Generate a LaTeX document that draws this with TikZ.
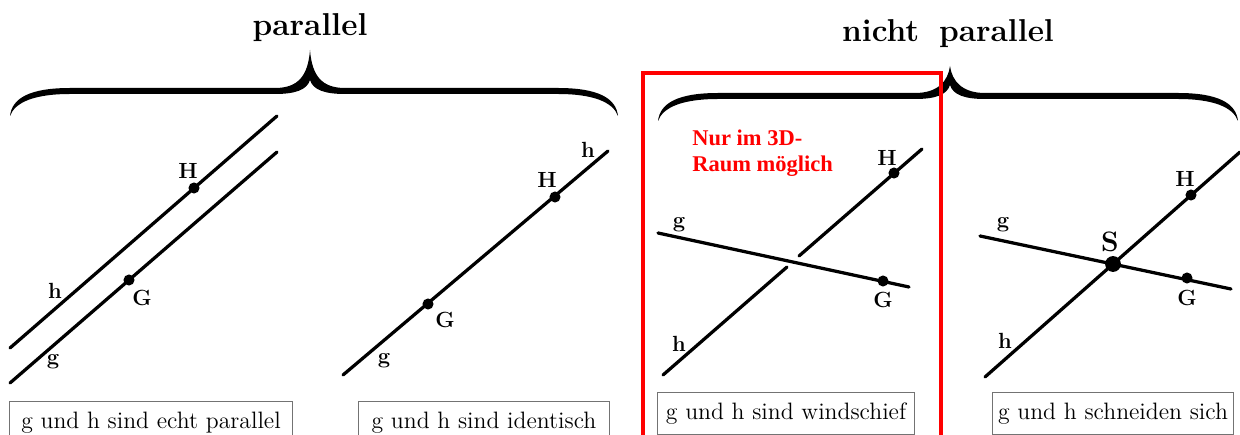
\documentclass[tikz,border=0pt]{standalone}
\usepackage{fontspec}
\newfontfamily\redfont{Liberation Serif}
\newcommand\drawgbrace[5]{%
\fill ({#1},{#4+28}) .. controls ({#1+2},{#4+10}) and ({#1+20},{#4}) .. ({#1+60},{#4})
 -- ({#2-35},{#4}) .. controls ({#2-12},{#4}) and ({#2-2},{#4-12}) .. ({#2},{#5})
 .. controls ({#2+2},{#4-12}) and ({#2+12},{#4}) .. ({#2+35},{#4})
 -- ({#3-60},{#4}) .. controls ({#3-20},{#4}) and ({#3-2},{#4+10}) .. ({#3},{#4+28})
 .. controls ({#3-5},{#4+14}) and ({#3-25},{#4+6}) .. ({#3-60},{#4+6})
 -- ({#2+35},{#4+6}) .. controls ({#2+15},{#4+6}) and ({#2+3},{#4+2}) .. ({#2},{#4-8})
 .. controls ({#2-3},{#4+2}) and ({#2-15},{#4+6}) .. ({#2-35},{#4+6})
 -- ({#1+60},{#4+6}) .. controls ({#1+25},{#4+6}) and ({#1+5},{#4+14}) .. cycle;}
\begin{document}
\begin{tikzpicture}[x=0.02cm,y=-0.02cm,
  ln/.style={line width=1.85pt, line cap=round},
  dot/.style={circle, fill=black, inner sep=0pt, minimum size=6.3pt},
  bigdot/.style={circle, fill=black, inner sep=0pt, minimum size=9pt},
  lbl/.style={font=\fontsize{12.5}{14}\selectfont\bfseries, inner sep=0pt},
  slbl/.style={font=\fontsize{16}{18}\selectfont\bfseries, inner sep=0pt},
  ttl/.style={font=\fontsize{18}{21}\selectfont\bfseries, inner sep=0pt},
  capbox/.style={draw=black!55, line width=0.6pt, anchor=north, minimum height=24pt,
    inner sep=0pt, font=\fontsize{13.5}{16}\selectfont},
  redbox/.style={draw=red, line width=2pt}
]
\useasboundingbox (0,0) rectangle (1240,435);
\fill[white] (0,0) rectangle (1240,435);
\clip (0,0) rectangle (1240,435);

% titles and braces
\node[ttl] (tpar) at (310,28) {parallel};
\node[ttl] (tnpar) at (948,34) {nicht\hspace{0.25em} parallel};
\drawgbrace{10}{310}{618}{88}{50}
\drawgbrace{658}{950}{1238}{93}{66}

% panel 1: echt parallel
\coordinate (h1a) at (10,348);
\coordinate (h1b) at (277,116);
\coordinate (g1a) at (10,383);
\coordinate (g1b) at (277,152);
\draw[ln] (h1a) -- (h1b);
\draw[ln] (g1a) -- (g1b);
\node[dot] (H1) at (194,188) {};
\node[dot] (G1) at (129,280) {};
\node[lbl] (H1l) at (188,171) {H};
\node[lbl] (G1l) at (142,298) {G};
\node[lbl] (h1l) at (55,291) {h};
\node[lbl] (g1l) at (53,362) {g};
\node[capbox, minimum width=161pt] (c1) at (151,401) {g und h sind echt parallel};

% panel 2: identisch
\coordinate (l2a) at (343,375);
\coordinate (l2b) at (608,151);
\draw[ln] (l2a) -- (l2b);
\node[dot] (H2) at (555,197) {};
\node[dot] (G2) at (428,304) {};
\node[lbl] (H2l) at (547,180) {H};
\node[lbl] (G2l) at (445,320) {G};
\node[lbl] (h2l) at (588,150) {h};
\node[lbl] (g2l) at (384,361) {g};
\node[capbox, minimum width=143pt] (c2) at (484,401) {g und h sind identisch};

% panel 3: windschief
\draw[redbox] (643,73) rectangle (941,460);
\node[anchor=north west, align=left, text=red, inner sep=0pt,
  font=\redfont\bfseries\fontsize{12.8}{14.8}\selectfont] (note) at (692,130) {Nur im 3D-\\Raum möglich};
\coordinate (g3a) at (658,233);
\coordinate (g3b) at (909,287);
\coordinate (h3a) at (663,375);
\coordinate (h3m1) at (787,267);
\coordinate (h3m2) at (799,256);
\coordinate (h3b) at (922,149);
\draw[ln] (g3a) -- (g3b);
\draw[ln] (h3a) -- (h3m1);
\draw[ln] (h3m2) -- (h3b);
\node[dot] (H3) at (894,173) {};
\node[dot] (G3) at (883,281) {};
\node[lbl] (H3l) at (887,158) {H};
\node[lbl] (G3l) at (883,300) {G};
\node[lbl] (g3l) at (679,225) {g};
\node[lbl] (h3l) at (679,344) {h};
\node[capbox, minimum width=146pt] (c3) at (786,392) {g und h sind windschief};

% panel 4: schneiden sich
\coordinate (g4a) at (980,236);
\coordinate (g4b) at (1231,289);
\coordinate (h4a) at (985,377);
\coordinate (h4b) at (1240,152);
\draw[ln] (g4a) -- (g4b);
\draw[ln] (h4a) -- (h4b);
\node[bigdot] (S) at (1113,264) {};
\node[dot] (H4) at (1191,195) {};
\node[dot] (G4) at (1187,278) {};
\node[slbl] (Sl) at (1110,242) {S};
\node[lbl] (H4l) at (1185,179) {H};
\node[lbl] (G4l) at (1187,298) {G};
\node[lbl] (g4l) at (1003,225) {g};
\node[lbl] (h4l) at (1005,341) {h};
\node[capbox, minimum width=137pt] (c4) at (1113,392) {g und h schneiden sich};
\end{tikzpicture}
\end{document}
